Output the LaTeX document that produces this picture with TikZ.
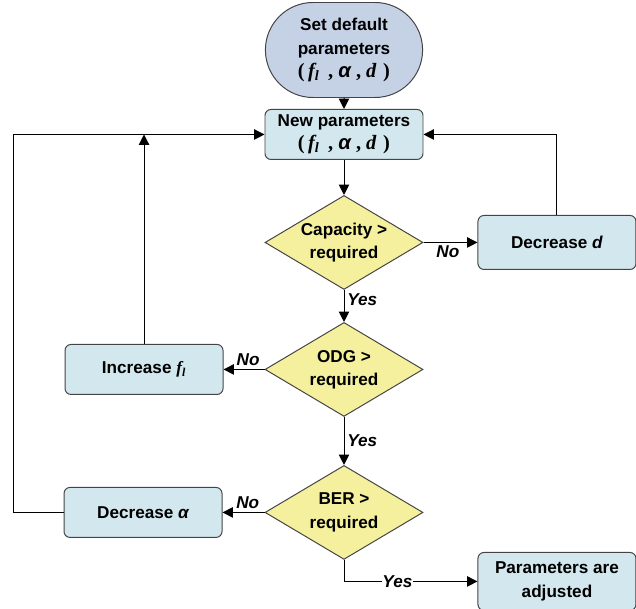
\documentclass[tikz,border=0pt]{standalone}
\usepackage{fontspec}
\setmainfont{Liberation Sans}
\newfontfamily\serifvar{Liberation Serif}
\newfontfamily\sansvar{Liberation Sans}
\usetikzlibrary{shapes.geometric, shapes.misc, arrows.meta, positioning, calc}
\definecolor{startfill}{HTML}{C5D2E6}
\definecolor{boxfill}{HTML}{D3E8EE}
\definecolor{testfill}{HTML}{F5F09E}
\definecolor{edgegray}{HTML}{444444}
\newcommand{\varf}{{\serifvar\bfseries\itshape f\textsubscript{l}}}
\newcommand{\vara}{{\sansvar\bfseries\itshape α}}
\newcommand{\vard}{{\serifvar\bfseries\itshape d}}
\newcommand{\paramset}{{\fontsize{14.5}{16.5}\selectfont\serifvar\bfseries(\,\varf\,\ , \vara\ , \vard\,\,)}}
\tikzset{
    startnode/.style={rounded rectangle, draw=edgegray, line width=0.7pt, fill=startfill, minimum width=4cm, minimum height=2.375cm, align=center, inner sep=1pt},
    process/.style={rectangle, rounded corners=0.15cm, draw=edgegray, line width=0.7pt, fill=boxfill, minimum width=3.95cm, minimum height=1.25cm, align=center},
    test/.style={diamond, draw=edgegray, line width=0.7pt, fill=testfill, aspect=1.68, inner sep=0pt, minimum width=3.95cm, minimum height=2.35cm, align=center},
    answer/.style={font=\fontsize{12.2}{14}\selectfont\bfseries\itshape, inner sep=2pt}
}
\begin{document}
\begin{tikzpicture}[font=\fontsize{12.2}{16.5}\selectfont\bfseries, >={Triangle[length=2.6mm, width=2.6mm]}, line width=0.7pt]
    \useasboundingbox (0,0) rectangle (15.9,-15.225);
    \node[startnode] (start) at (8.6,-1.25) {Set default\\parameters\\\paramset};
    \node[process, below=0.275cm of start] (newpar) {New parameters\\\paramset};

    \node[test, below=0.875cm of newpar] (capacity) {Capacity >\\required};
    \node[test, below=0.8cm of capacity] (odg) {ODG >\\required};
    \node[test, below=1.2cm of odg] (ber) {BER >\\required};

    \node[process, right=1.35cm of capacity, minimum height=1.35cm] (decd) {Decrease \textit{d}};
    \node[process, left=1.025cm of odg] (incf) {Increase \varf};
    \node[process, left=1.05cm of ber] (deca) {Decrease \vara};
    \node[process, below=7.05cm of decd, minimum height=1.45cm] (adjust) {Parameters are\\adjusted};

    \coordinate[left=6.275cm of newpar.west] (loop);

    \draw[->] (start) -- (newpar);
    \draw[->] (newpar) -- (capacity);
    \draw[->] (capacity) -- node[answer, below, pos=0.45] {No} (decd);
    \draw[->] (decd.north) |- (newpar.east);
    \draw[->] (capacity) -- node[answer, right, pos=0.3] {Yes} (odg);
    \draw[->] (odg) -- node[answer, above, pos=0.4] {No} (incf);
    \draw[->] (incf.north) -- (incf.north |- loop);
    \draw[->] (odg) -- node[answer, right] {Yes} (ber);
    \draw[->] (ber) -- node[answer, above, pos=0.4] {No} (deca);
    \draw[->] (deca.west) -| (loop) -- (newpar.west);
    \draw[->] (ber.south) |- node[answer, fill=white, pos=0.7, inner sep=0.5pt] {Yes} (adjust.west);
\end{tikzpicture}
\end{document}
